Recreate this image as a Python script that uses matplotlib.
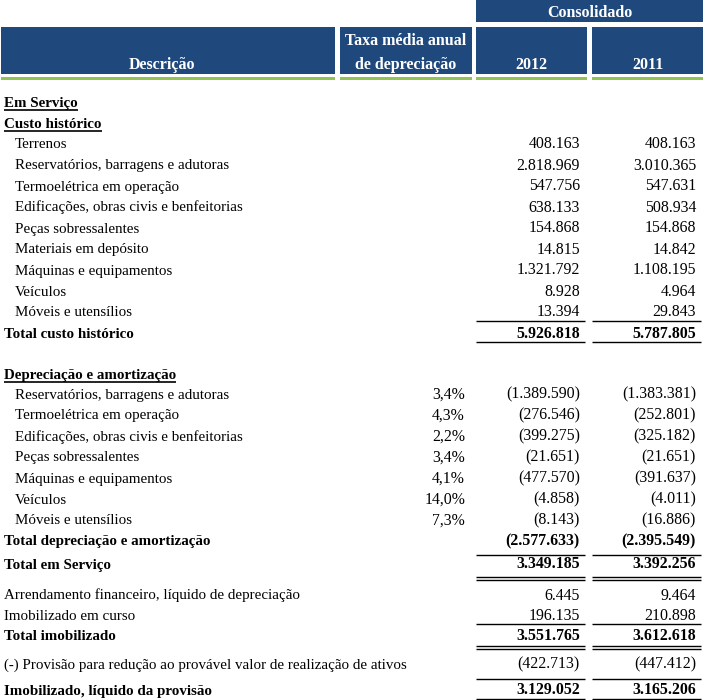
import matplotlib
matplotlib.use("Agg")
import matplotlib.pyplot as plt
from matplotlib.patches import Rectangle

BLUE = "#1F497D"
GREEN = "#92C455"
FONT = "Liberation Serif"

# ---- data ----
custo_labels = ["Terrenos", "Reservatórios, barragens e adutoras", "Termoelétrica em operação",
                "Edificações, obras civis e benfeitorias", "Peças sobressalentes",
                "Materiais em depósito", "Máquinas e equipamentos", "Veículos", "Móveis e utensílios"]
custo_2012 = ["408.163", "2.818.969", "547.756", "638.133", "154.868", "14.815", "1.321.792", "8.928", "13.394"]
custo_2011 = ["408.163", "3.010.365", "547.631", "508.934", "154.868", "14.842", "1.108.195", "4.964", "29.843"]
total_custo = ("Total custo histórico", "5.926.818", "5.787.805")

dep_labels = ["Reservatórios, barragens e adutoras", "Termoelétrica em operação",
              "Edificações, obras civis e benfeitorias", "Peças sobressalentes",
              "Máquinas e equipamentos", "Veículos", "Móveis e utensílios"]
dep_rates = ["3,4%", "4,3%", "2,2%", "3,4%", "4,1%", "14,0%", "7,3%"]
dep_2012 = ["(1.389.590)", "(276.546)", "(399.275)", "(21.651)", "(477.570)", "(4.858)", "(8.143)"]
dep_2011 = ["(1.383.381)", "(252.801)", "(325.182)", "(21.651)", "(391.637)", "(4.011)", "(16.886)"]
total_dep = ("Total depreciação e amortização", "(2.577.633)", "(2.395.549)")
total_servico = ("Total em Serviço", "3.349.185", "3.392.256")

outros_labels = ["Arrendamento financeiro, líquido de depreciação", "Imobilizado em curso"]
outros_2012 = ["6.445", "196.135"]
outros_2011 = ["9.464", "210.898"]
total_imob = ("Total imobilizado", "3.551.765", "3.612.618")
provisao = ("(-) Provisão para redução ao provável valor de realização de ativos", "(422.713)", "(447.412)")
liquido = ("Imobilizado, líquido da provisão", "3.129.052", "3.165.206")

headers = ["Descrição", "Taxa média anual", "de depreciação", "2012", "2011"]
group_header = "Consolidado"

# ---- figure in pixel coordinates ----
W, H = 703, 700
fig = plt.figure(figsize=(W / 100, H / 100), dpi=100)
ax = fig.add_axes([0, 0, 1, 1])
ax.set_xlim(0, W)
ax.set_ylim(H, 0)
ax.axis("off")

FS = 10.8
NFS = 11.4
HFS = 11.5
BO = 5.5  # baseline offset from row centre (px)

# header boxes
col_boxes = [(1, 335), (340, 472), (476, 587), (592, 703)]
ax.add_patch(Rectangle((476, 0), 227, 22, color=BLUE, lw=0))
hkw = dict(ha="center", va="baseline", color="white", fontsize=HFS, fontweight="bold", family=FONT)
ax.text(589.5, 11.5 + BO, group_header, **hkw)
for (x0, x1) in col_boxes:
    ax.add_patch(Rectangle((x0, 27), x1 - x0, 47, color=BLUE, lw=0))
    ax.add_patch(Rectangle((x0, 77), x1 - x0, 3, color=GREEN, lw=0))
ax.text(162, 63.5 + BO, headers[0], **hkw)
ax.text(406, 39.5 + BO, headers[1], **hkw)
ax.text(406, 63.5 + BO, headers[2], **hkw)
ax.text(531, 63.5 + BO, headers[3], **hkw)
ax.text(648, 63.5 + BO, headers[4], **hkw)

XL, XI, XR, X12, X11 = 4, 15, 465, 580, 696


def row(y, label, v12, v11, rate=None, bold=False, indent=False):
    fw = "bold" if bold else "normal"
    kw = dict(va="baseline", family=FONT)
    ax.text(XI if indent else XL, y + BO, label, ha="left", fontweight=fw, fontsize=FS, **kw)
    if rate:
        ax.text(XR, y + BO, rate, ha="right", fontsize=NFS, **kw)
    if v12:
        ax.text(X12, y + BO, v12, ha="right", fontweight=fw, fontsize=NFS, **kw)
    if v11:
        ax.text(X11, y + BO, v11, ha="right", fontweight=fw, fontsize=NFS, **kw)


def underline_title(y, text):
    t = ax.text(XL, y + BO, text, ha="left", va="baseline", fontsize=FS, fontweight="bold", family=FONT)
    fig.canvas.draw()
    bb = t.get_window_extent()
    ax.plot([bb.x0, bb.x1], [y + BO + 3, y + BO + 3], color="black", lw=1.2, solid_capstyle="butt")


def hline(y, double=False):
    for x0, x1 in [(476, 585), (592, 701)]:
        ax.plot([x0, x1], [y, y], color="black", lw=1.0, solid_capstyle="butt")
        if double:
            ax.plot([x0, x1], [y + 3, y + 3], color="black", lw=1.0, solid_capstyle="butt")


underline_title(101, "Em Serviço")
underline_title(122, "Custo histórico")
y = 143
for lab, a, b in zip(custo_labels, custo_2012, custo_2011):
    row(y, lab, a, b, indent=True)
    y += 21
hline(321)
row(332, *total_custo, bold=True)
hline(342)

underline_title(373, "Depreciação e amortização")
y = 393
for lab, r, a, b in zip(dep_labels, dep_rates, dep_2012, dep_2011):
    row(y, lab, a, b, rate=r, indent=True)
    y += 21
row(540, *total_dep, bold=True)
hline(555)
row(563, *total_servico, bold=True)
hline(577, double=True)
row(594, outros_labels[0], outros_2012[0], outros_2011[0])
row(614, outros_labels[1], outros_2012[1], outros_2011[1])
hline(624)
row(634, *total_imob, bold=True)
hline(646, double=True)
row(663, *provisao)
hline(679)
row(689, *liquido, bold=True)
hline(699)

fig.savefig("out.png", dpi=100)
